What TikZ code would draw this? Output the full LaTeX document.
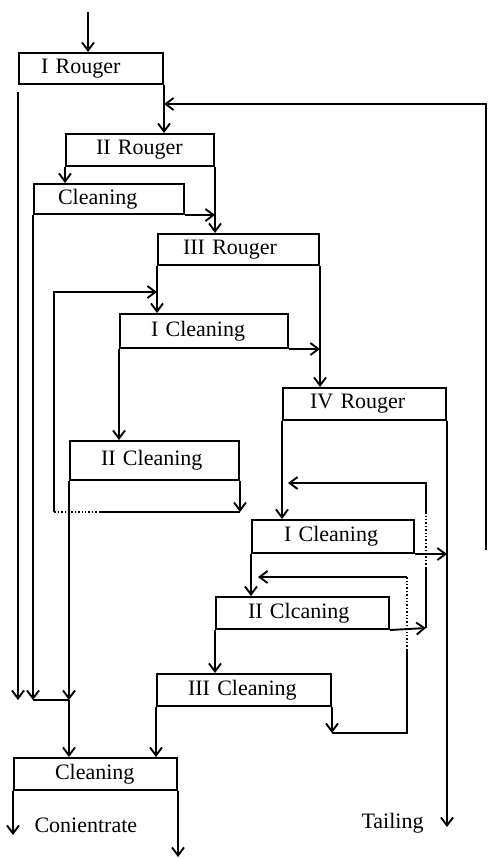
\documentclass[tikz,border=0pt]{standalone}
\usepackage{fontspec}
\setmainfont{Liberation Serif}
\usetikzlibrary{arrows.meta}

\begin{document}
\begin{tikzpicture}[x=1pt,y=-1pt,
    stage/.style={draw,line width=2pt,anchor=north west,align=left,
      inner ysep=0pt,font=\fontsize{22}{24}\selectfont},
    flow/.style={line width=1.9pt,-{Straight Barb[length=8pt,width=12pt]}},
    link/.style={line width=1.9pt},
    recyc/.style={line width=1.4pt,dotted}]
  \useasboundingbox (0,0) rectangle (489,859);
  % rougher stages and their cleanings
  \node[stage,inner xsep=22pt,text width=100pt,minimum height=31pt] (IR) at (18,52) {I Rouger};
  \node[stage,inner xsep=30pt,text width=88pt,minimum height=32pt] (IIR) at (65,133) {II Rouger};
  \node[stage,inner xsep=24pt,text width=102pt,minimum height=30pt] (CL1) at (33,183) {Cleaning};
  \node[stage,inner xsep=25pt,text width=111pt,minimum height=31pt] (IIIR) at (157,233) {III Rouger};
  \node[stage,inner xsep=31pt,text width=106pt,minimum height=34pt] (IC1) at (119,313) {I Cleaning};
  \node[stage,inner xsep=31pt,text width=107pt,minimum height=39pt] (IIC1) at (69,440) {II Cleaning};
  \node[stage,inner xsep=27pt,text width=109pt,minimum height=32pt] (IVR) at (282,387) {IV Rouger};
  \node[stage,inner xsep=32pt,text width=98pt,minimum height=33pt] (IC2) at (251,519) {I Cleaning};
  \node[stage,inner xsep=32pt,text width=109pt,minimum height=32pt] (IIC2) at (215,596) {II Clcaning};
  \node[stage,inner xsep=31pt,text width=112pt,minimum height=32pt] (IIIC) at (156,673) {III Cleaning};
  \node[stage,inner xsep=41pt,text width=81pt,minimum height=32pt] (CLF) at (13,757) {Cleaning};
  \node[anchor=west,font=\fontsize{22}{24}\selectfont] (conc) at (31,825) {Conientrate};
  \node[anchor=west,font=\fontsize{22}{24}\selectfont] (tail) at (358,823) {Tailing};

  % main line
  \coordinate (feed) at (88,12);
  \draw[flow] (feed) -- (feed |- IR.north);
  \draw[flow] (IR.south east) -- (IR.south east |- IIR.north);
  \draw[flow] (486,550) -- (486,104) -- (IR.south east |- 0,104);
  \draw[flow] (IIR.south west) -- (IIR.south west |- CL1.north);
  \draw[flow] (IIR.south east) -- (IIR.south east |- IIIR.north);
  \draw[flow] (CL1.south east) -- (IIR.south east |- CL1.south east);
  \draw[flow] (IIIR.south west) -- (IIIR.south west |- IC1.north);
  \draw[flow] (IIIR.south east) -- (IIIR.south east |- IVR.north);
  \draw[flow] (IC1.south east) -- (IIIR.south east |- IC1.south east);
  \draw[flow] (IC1.south west) -- (IC1.south west |- IIC1.north);
  \draw[flow] (IVR.south west) -- (IVR.south west |- IC2.north);
  \draw[flow] (IVR.south east) -- (IVR.south east |- 0,827);
  \draw[flow] (IC2.south east) -- (IVR.south east |- IC2.south east);
  \draw[flow] (IC2.south west) -- (IC2.south west |- IIC2.north);
  \draw[flow] (IIC2.south west) -- (IIC2.south west |- IIIC.north);
  \draw[flow] (IIIC.south west) -- (IIIC.south west |- CLF.north);

  % concentrates gathered to the last cleaning
  \coordinate (mix) at (69,700);
  \draw[flow] (IR.south west) ++(0,7) -- (IR.south west |- mix);
  \draw[flow] (CL1.south west) -- (CL1.south west |- mix);
  \draw[link] (CL1.south west |- mix) -- (mix);
  \draw[flow] (IIC1.south west) -- (mix);
  \draw[flow] (mix) -- (mix |- CLF.north);
  \draw[flow] (CLF.south west) -- ++(0,44);
  \draw[flow] (CLF.south east) -- ++(0,66);

  % II Cleaning tailing back to I Cleaning
  \coordinate (ret1) at (54,512);
  \coordinate (ret1d) at (100,512);
  \draw[flow] (IIC1.south east) -- (IIC1.south east |- ret1);
  \draw[link] (IIC1.south east |- ret1) -- (ret1d);
  \draw[recyc] (ret1d) -- (ret1);
  \draw[flow] (ret1) -- (54,292) -- (IIIR.south west |- 0,292);

  % right column returns
  \coordinate (ret2) at (426,628);
  \draw[flow] (IIC2.south east) -- (ret2);
  \draw[link] (ret2) -- (426,568);
  \draw[recyc] (426,568) -- (426,513);
  \draw[flow] (426,513) -- (426,483) -- (288,483);
  \coordinate (ret3) at (407,733);
  \draw[flow] (IIIC.south east) -- (IIIC.south east |- ret3);
  \draw[link] (IIIC.south east |- ret3) -- (ret3) -- (407,650);
  \draw[recyc] (407,650) -- (407,577);
  \draw[flow] (407,577) -- (258,577);
\end{tikzpicture}
\end{document}
